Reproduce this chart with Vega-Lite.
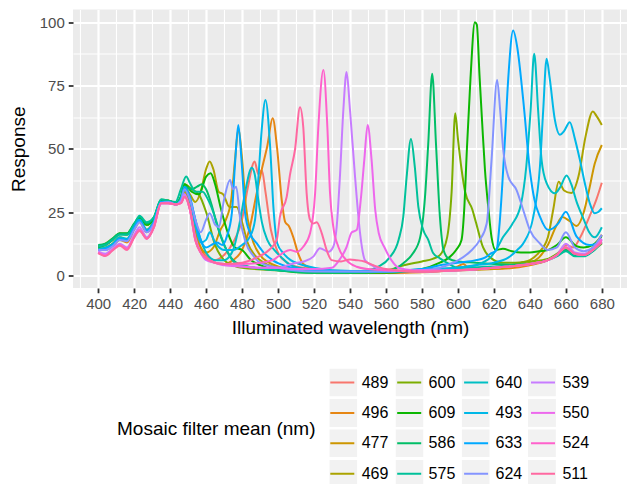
{
"$schema": "https://vega.github.io/schema/vega-lite/v6.json",
"autosize": {"type": "none"},
"width": 554, "height": 278.5,
"padding": {"left": 73, "top": 9.5, "right": 0, "bottom": 196},
"background": "white",
"config": {
 "font": "Liberation Sans",
 "view": {"fill": "#EBEBEB", "stroke": null},
 "axis": {"domain": false, "grid": true, "gridColor": "#FFFFFF", "tickColor": "#333333", "tickSize": 4.75, "tickWidth": 1.8, "labelColor": "#4D4D4D", "labelFontSize": 15, "titleFontSize": 19, "titleFontWeight": "normal", "titleColor": "#000000", "labelPadding": 4},
 "legend": {"orient": "none", "legendY": 359, "columns": 4, "titleOrient": "left", "titleAnchor": "middle", "titleBaseline": "middle", "titleLimit": 400,
   "titleFontSize": 19, "titleFontWeight": "normal", "titleColor": "#000000", "titlePadding": 11.3,
   "labelFontSize": 16, "labelColor": "#000000", "labelOffset": 4.4, "symbolSize": 784, "clipHeight": 28,
   "rowPadding": 2.4, "columnPadding": 4.9}
},
"data": {"values": [
{"s":"489","w":400,"r":10.5},{"s":"489","w":404,"r":10.5},{"s":"489","w":408,"r":12},{"s":"489","w":412,"r":14.5},{"s":"489","w":416,"r":13.5},{"s":"489","w":420,"r":18.5},{"s":"489","w":423,"r":21.5},{"s":"489","w":427,"r":17.5},{"s":"489","w":431,"r":21},{"s":"489","w":435,"r":29},{"s":"489","w":439,"r":29},{"s":"489","w":443,"r":28},{"s":"489","w":446,"r":29},{"s":"489","w":448,"r":33},{"s":"489","w":451,"r":28},{"s":"489","w":454,"r":18},{"s":"489","w":457,"r":11},{"s":"489","w":460,"r":8},{"s":"489","w":465,"r":6},{"s":"489","w":470,"r":8},{"s":"489","w":475,"r":13},{"s":"489","w":480,"r":22},{"s":"489","w":483,"r":34},{"s":"489","w":487,"r":45},{"s":"489","w":489,"r":40},{"s":"489","w":491,"r":41.5},{"s":"489","w":493,"r":33},{"s":"489","w":496,"r":18},{"s":"489","w":500,"r":9},{"s":"489","w":505,"r":5},{"s":"489","w":510,"r":3.5},{"s":"489","w":520,"r":2.5},{"s":"489","w":530,"r":1.5},{"s":"489","w":545,"r":1.5},{"s":"489","w":560,"r":1},{"s":"489","w":580,"r":1.5},{"s":"489","w":600,"r":2},{"s":"489","w":620,"r":3},{"s":"489","w":640,"r":4.5},{"s":"489","w":650,"r":6},{"s":"489","w":655,"r":8},{"s":"489","w":660,"r":12},{"s":"489","w":664,"r":11},{"s":"489","w":668,"r":15},{"s":"489","w":673,"r":23},{"s":"489","w":677,"r":30},{"s":"489","w":680,"r":36.6},
{"s":"496","w":400,"r":10},{"s":"496","w":404,"r":10},{"s":"496","w":408,"r":11.5},{"s":"496","w":412,"r":14},{"s":"496","w":416,"r":13},{"s":"496","w":420,"r":18},{"s":"496","w":423,"r":21},{"s":"496","w":427,"r":17},{"s":"496","w":431,"r":20.5},{"s":"496","w":435,"r":29},{"s":"496","w":439,"r":29},{"s":"496","w":443,"r":28},{"s":"496","w":446,"r":29},{"s":"496","w":448,"r":34},{"s":"496","w":451,"r":29},{"s":"496","w":454,"r":17},{"s":"496","w":457,"r":10},{"s":"496","w":460,"r":7},{"s":"496","w":465,"r":5},{"s":"496","w":470,"r":4.5},{"s":"496","w":475,"r":6},{"s":"496","w":480,"r":10},{"s":"496","w":484,"r":18},{"s":"496","w":488,"r":32},{"s":"496","w":491,"r":42},{"s":"496","w":494,"r":51},{"s":"496","w":497,"r":62},{"s":"496","w":499.5,"r":50},{"s":"496","w":502,"r":30},{"s":"496","w":504,"r":21},{"s":"496","w":506,"r":19.5},{"s":"496","w":508.5,"r":15},{"s":"496","w":511,"r":9},{"s":"496","w":514,"r":4.5},{"s":"496","w":518,"r":3},{"s":"496","w":525,"r":2},{"s":"496","w":535,"r":1.5},{"s":"496","w":560,"r":1},{"s":"496","w":580,"r":1.2},{"s":"496","w":595,"r":2},{"s":"496","w":600,"r":3.5},{"s":"496","w":603,"r":4.5},{"s":"496","w":606,"r":3},{"s":"496","w":620,"r":2.5},{"s":"496","w":640,"r":4},{"s":"496","w":650,"r":6},{"s":"496","w":655,"r":8},{"s":"496","w":660,"r":10.5},{"s":"496","w":665,"r":8},{"s":"496","w":670,"r":8},{"s":"496","w":675,"r":11},{"s":"496","w":680,"r":16},
{"s":"477","w":400,"r":10.5},{"s":"477","w":404,"r":11},{"s":"477","w":408,"r":12.5},{"s":"477","w":412,"r":15},{"s":"477","w":416,"r":14},{"s":"477","w":420,"r":19},{"s":"477","w":423,"r":21.5},{"s":"477","w":427,"r":18},{"s":"477","w":431,"r":21.5},{"s":"477","w":435,"r":29},{"s":"477","w":439,"r":29.5},{"s":"477","w":443,"r":28},{"s":"477","w":446,"r":29.5},{"s":"477","w":448,"r":33},{"s":"477","w":451,"r":28},{"s":"477","w":454,"r":17},{"s":"477","w":457,"r":11},{"s":"477","w":460,"r":9},{"s":"477","w":464,"r":11},{"s":"477","w":468,"r":18},{"s":"477","w":471,"r":22},{"s":"477","w":474,"r":30},{"s":"477","w":476,"r":45},{"s":"477","w":478,"r":58},{"s":"477","w":480,"r":46},{"s":"477","w":482,"r":28},{"s":"477","w":485,"r":16},{"s":"477","w":490,"r":8},{"s":"477","w":495,"r":5},{"s":"477","w":500,"r":3.5},{"s":"477","w":510,"r":2},{"s":"477","w":520,"r":1.5},{"s":"477","w":560,"r":1},{"s":"477","w":580,"r":1.5},{"s":"477","w":600,"r":2},{"s":"477","w":620,"r":2.5},{"s":"477","w":640,"r":5},{"s":"477","w":645,"r":7},{"s":"477","w":650,"r":12},{"s":"477","w":655,"r":20},{"s":"477","w":658,"r":23},{"s":"477","w":662,"r":21.5},{"s":"477","w":666,"r":19.5},{"s":"477","w":670,"r":25},{"s":"477","w":673,"r":34},{"s":"477","w":676,"r":44},{"s":"477","w":680,"r":51.5},
{"s":"469","w":400,"r":11.5},{"s":"469","w":404,"r":12},{"s":"469","w":408,"r":14},{"s":"469","w":412,"r":16.5},{"s":"469","w":416,"r":16.5},{"s":"469","w":420,"r":20},{"s":"469","w":423,"r":22.5},{"s":"469","w":427,"r":20},{"s":"469","w":431,"r":22.5},{"s":"469","w":435,"r":29.5},{"s":"469","w":439,"r":29.5},{"s":"469","w":443,"r":28.5},{"s":"469","w":446,"r":30},{"s":"469","w":448,"r":35},{"s":"469","w":451,"r":32},{"s":"469","w":454,"r":29},{"s":"469","w":457,"r":33},{"s":"469","w":460,"r":42},{"s":"469","w":462,"r":45},{"s":"469","w":464,"r":42},{"s":"469","w":467,"r":33},{"s":"469","w":469.5,"r":32},{"s":"469","w":473,"r":27},{"s":"469","w":477,"r":27},{"s":"469","w":480,"r":21},{"s":"469","w":483,"r":13},{"s":"469","w":487,"r":8},{"s":"469","w":492,"r":5},{"s":"469","w":500,"r":3},{"s":"469","w":520,"r":2},{"s":"469","w":560,"r":1.5},{"s":"469","w":600,"r":2},{"s":"469","w":620,"r":3},{"s":"469","w":635,"r":5},{"s":"469","w":640,"r":6},{"s":"469","w":645,"r":9},{"s":"469","w":650,"r":15},{"s":"469","w":653,"r":26},{"s":"469","w":656,"r":37},{"s":"469","w":659,"r":33.5},{"s":"469","w":663,"r":32.5},{"s":"469","w":667,"r":39},{"s":"469","w":671,"r":55},{"s":"469","w":675,"r":64.7},{"s":"469","w":677,"r":63},{"s":"469","w":680,"r":59.4},
{"s":"600","w":400,"r":11.5},{"s":"600","w":404,"r":12.5},{"s":"600","w":408,"r":14.5},{"s":"600","w":412,"r":16.5},{"s":"600","w":416,"r":16},{"s":"600","w":420,"r":20},{"s":"600","w":423,"r":22.5},{"s":"600","w":427,"r":20},{"s":"600","w":431,"r":22.5},{"s":"600","w":435,"r":29.5},{"s":"600","w":439,"r":29.5},{"s":"600","w":443,"r":28.5},{"s":"600","w":446,"r":31},{"s":"600","w":448,"r":36},{"s":"600","w":452,"r":34},{"s":"600","w":456,"r":32},{"s":"600","w":460,"r":25},{"s":"600","w":465,"r":12},{"s":"600","w":470,"r":6},{"s":"600","w":475,"r":4},{"s":"600","w":480,"r":3},{"s":"600","w":500,"r":2},{"s":"600","w":520,"r":1.5},{"s":"600","w":540,"r":1.5},{"s":"600","w":560,"r":2},{"s":"600","w":570,"r":4},{"s":"600","w":580,"r":5.5},{"s":"600","w":586,"r":6.5},{"s":"600","w":590,"r":8},{"s":"600","w":594,"r":15},{"s":"600","w":596.5,"r":33},{"s":"600","w":598.5,"r":64},{"s":"600","w":600,"r":54},{"s":"600","w":602,"r":42},{"s":"600","w":604,"r":33},{"s":"600","w":608,"r":26},{"s":"600","w":610,"r":21},{"s":"600","w":614,"r":11},{"s":"600","w":618,"r":7},{"s":"600","w":625,"r":5},{"s":"600","w":632,"r":5},{"s":"600","w":640,"r":5.5},{"s":"600","w":650,"r":6.5},{"s":"600","w":655,"r":8.5},{"s":"600","w":660,"r":11},{"s":"600","w":665,"r":8},{"s":"600","w":670,"r":8},{"s":"600","w":675,"r":10},{"s":"600","w":680,"r":12.5},
{"s":"609","w":400,"r":11},{"s":"609","w":404,"r":12},{"s":"609","w":408,"r":14},{"s":"609","w":412,"r":16.5},{"s":"609","w":416,"r":16.5},{"s":"609","w":420,"r":20},{"s":"609","w":423,"r":22.5},{"s":"609","w":427,"r":20},{"s":"609","w":431,"r":22.5},{"s":"609","w":435,"r":29.5},{"s":"609","w":439,"r":29.5},{"s":"609","w":443,"r":28.5},{"s":"609","w":446,"r":31},{"s":"609","w":448,"r":36},{"s":"609","w":452,"r":33},{"s":"609","w":456,"r":32},{"s":"609","w":460,"r":39},{"s":"609","w":462.5,"r":40.3},{"s":"609","w":465,"r":36},{"s":"609","w":468,"r":27},{"s":"609","w":472,"r":17},{"s":"609","w":476,"r":11},{"s":"609","w":480,"r":10},{"s":"609","w":485,"r":6},{"s":"609","w":490,"r":4},{"s":"609","w":500,"r":2},{"s":"609","w":520,"r":1},{"s":"609","w":560,"r":1},{"s":"609","w":580,"r":2.5},{"s":"609","w":590,"r":5},{"s":"609","w":595,"r":7},{"s":"609","w":599,"r":10},{"s":"609","w":602,"r":14},{"s":"609","w":603.5,"r":26},{"s":"609","w":605,"r":50},{"s":"609","w":607,"r":78},{"s":"609","w":609.4,"r":100},{"s":"609","w":610.5,"r":99},{"s":"609","w":612,"r":79},{"s":"609","w":613.5,"r":60},{"s":"609","w":615,"r":42},{"s":"609","w":617,"r":26},{"s":"609","w":618.7,"r":15},{"s":"609","w":621,"r":10},{"s":"609","w":625,"r":10.5},{"s":"609","w":630,"r":9.5},{"s":"609","w":635,"r":9},{"s":"609","w":640,"r":9},{"s":"609","w":645,"r":9.5},{"s":"609","w":650,"r":10},{"s":"609","w":655,"r":12},{"s":"609","w":660,"r":15},{"s":"609","w":666,"r":11.5},{"s":"609","w":670,"r":11},{"s":"609","w":675,"r":12},{"s":"609","w":680,"r":15.5},
{"s":"586","w":400,"r":12},{"s":"586","w":404,"r":12.5},{"s":"586","w":408,"r":14.5},{"s":"586","w":412,"r":16.5},{"s":"586","w":416,"r":16.5},{"s":"586","w":420,"r":20.5},{"s":"586","w":423,"r":23},{"s":"586","w":427,"r":20.5},{"s":"586","w":431,"r":23},{"s":"586","w":435,"r":30},{"s":"586","w":439,"r":29.5},{"s":"586","w":443,"r":28.5},{"s":"586","w":446,"r":31},{"s":"586","w":448,"r":35},{"s":"586","w":452,"r":34},{"s":"586","w":455,"r":35},{"s":"586","w":457.6,"r":36},{"s":"586","w":460,"r":34},{"s":"586","w":463,"r":28},{"s":"586","w":466,"r":20},{"s":"586","w":470,"r":12},{"s":"586","w":475,"r":6},{"s":"586","w":480,"r":4},{"s":"586","w":500,"r":2},{"s":"586","w":520,"r":1},{"s":"586","w":540,"r":1},{"s":"586","w":560,"r":1.5},{"s":"586","w":566,"r":3},{"s":"586","w":570,"r":5},{"s":"586","w":575,"r":8.7},{"s":"586","w":579,"r":15},{"s":"586","w":581.7,"r":31},{"s":"586","w":583.5,"r":52},{"s":"586","w":585.7,"r":79.6},{"s":"586","w":587.8,"r":52},{"s":"586","w":590,"r":23},{"s":"586","w":592,"r":10},{"s":"586","w":594.6,"r":6.7},{"s":"586","w":600,"r":5.5},{"s":"586","w":610,"r":5},{"s":"586","w":620,"r":4.5},{"s":"586","w":630,"r":4.2},{"s":"586","w":640,"r":4.5},{"s":"586","w":650,"r":6},{"s":"586","w":655,"r":8},{"s":"586","w":660,"r":10},{"s":"586","w":665,"r":8},{"s":"586","w":670,"r":8},{"s":"586","w":675,"r":9.5},{"s":"586","w":680,"r":13},
{"s":"575","w":400,"r":11.5},{"s":"575","w":404,"r":12},{"s":"575","w":408,"r":14},{"s":"575","w":412,"r":16},{"s":"575","w":416,"r":16},{"s":"575","w":420,"r":20},{"s":"575","w":423,"r":23.5},{"s":"575","w":427,"r":21},{"s":"575","w":431,"r":23},{"s":"575","w":435,"r":30},{"s":"575","w":439,"r":29.5},{"s":"575","w":443,"r":29},{"s":"575","w":446,"r":34},{"s":"575","w":448.9,"r":39},{"s":"575","w":451,"r":36.5},{"s":"575","w":454,"r":33},{"s":"575","w":458,"r":33},{"s":"575","w":461,"r":30},{"s":"575","w":464,"r":25},{"s":"575","w":468,"r":16},{"s":"575","w":472,"r":9},{"s":"575","w":476,"r":5},{"s":"575","w":480,"r":4},{"s":"575","w":500,"r":2},{"s":"575","w":520,"r":1.5},{"s":"575","w":540,"r":1.5},{"s":"575","w":550,"r":2},{"s":"575","w":556,"r":3.5},{"s":"575","w":562,"r":7},{"s":"575","w":567,"r":14},{"s":"575","w":569.6,"r":23},{"s":"575","w":571.5,"r":39},{"s":"575","w":573.9,"r":53.9},{"s":"575","w":576,"r":43},{"s":"575","w":578,"r":27},{"s":"575","w":580.7,"r":18},{"s":"575","w":583.5,"r":14},{"s":"575","w":586.3,"r":8.7},{"s":"575","w":590,"r":6.7},{"s":"575","w":595,"r":4.5},{"s":"575","w":600,"r":3},{"s":"575","w":620,"r":3.5},{"s":"575","w":640,"r":4.5},{"s":"575","w":650,"r":6},{"s":"575","w":655,"r":7.5},{"s":"575","w":660,"r":9.5},{"s":"575","w":665,"r":7.5},{"s":"575","w":670,"r":7.5},{"s":"575","w":675,"r":9.5},{"s":"575","w":680,"r":13},
{"s":"640","w":400,"r":10.5},{"s":"640","w":404,"r":11},{"s":"640","w":408,"r":12.5},{"s":"640","w":412,"r":15},{"s":"640","w":416,"r":14.5},{"s":"640","w":420,"r":19},{"s":"640","w":423,"r":22},{"s":"640","w":427,"r":18},{"s":"640","w":431,"r":21.5},{"s":"640","w":435,"r":29},{"s":"640","w":439,"r":29},{"s":"640","w":443,"r":28},{"s":"640","w":446,"r":30},{"s":"640","w":448,"r":34},{"s":"640","w":451,"r":30},{"s":"640","w":454,"r":22},{"s":"640","w":457,"r":14},{"s":"640","w":460,"r":9},{"s":"640","w":465,"r":6},{"s":"640","w":470,"r":6},{"s":"640","w":475,"r":10},{"s":"640","w":479,"r":22},{"s":"640","w":482,"r":34},{"s":"640","w":485.4,"r":42.5},{"s":"640","w":487,"r":40},{"s":"640","w":489,"r":30},{"s":"640","w":491,"r":21},{"s":"640","w":494,"r":14},{"s":"640","w":498,"r":10},{"s":"640","w":502,"r":7},{"s":"640","w":507,"r":4},{"s":"640","w":515,"r":2.5},{"s":"640","w":530,"r":1.5},{"s":"640","w":560,"r":1.5},{"s":"640","w":580,"r":2.5},{"s":"640","w":600,"r":3},{"s":"640","w":610,"r":4},{"s":"640","w":615,"r":5.5},{"s":"640","w":618,"r":7},{"s":"640","w":622,"r":11},{"s":"640","w":625,"r":15},{"s":"640","w":630,"r":20},{"s":"640","w":635,"r":28},{"s":"640","w":638,"r":43},{"s":"640","w":640.4,"r":65},{"s":"640","w":642.4,"r":87.5},{"s":"640","w":644.6,"r":65},{"s":"640","w":646.5,"r":45.6},{"s":"640","w":649.3,"r":36.4},{"s":"640","w":653.9,"r":32.4},{"s":"640","w":657,"r":35},{"s":"640","w":660.4,"r":39.4},{"s":"640","w":663,"r":36},{"s":"640","w":666,"r":29},{"s":"640","w":670,"r":22},{"s":"640","w":673,"r":17},{"s":"640","w":676,"r":15},{"s":"640","w":680,"r":19},
{"s":"493","w":400,"r":10},{"s":"493","w":404,"r":10.5},{"s":"493","w":408,"r":12},{"s":"493","w":412,"r":14.5},{"s":"493","w":416,"r":14},{"s":"493","w":420,"r":18.5},{"s":"493","w":423,"r":21.5},{"s":"493","w":427,"r":17.5},{"s":"493","w":431,"r":21},{"s":"493","w":435,"r":29},{"s":"493","w":439,"r":29},{"s":"493","w":443,"r":28},{"s":"493","w":446,"r":29.5},{"s":"493","w":448,"r":34},{"s":"493","w":451,"r":30},{"s":"493","w":454,"r":20},{"s":"493","w":457,"r":13},{"s":"493","w":460,"r":14},{"s":"493","w":462,"r":17},{"s":"493","w":465,"r":13},{"s":"493","w":470,"r":10},{"s":"493","w":475,"r":10},{"s":"493","w":480,"r":12},{"s":"493","w":484.4,"r":15.3},{"s":"493","w":487.2,"r":21.9},{"s":"493","w":489,"r":37.7},{"s":"493","w":490.9,"r":57.4},{"s":"493","w":493,"r":69.3},{"s":"493","w":495.6,"r":50.8},{"s":"493","w":497.4,"r":27.1},{"s":"493","w":499.6,"r":12.6},{"s":"493","w":503,"r":8.7},{"s":"493","w":507,"r":6},{"s":"493","w":512,"r":4.5},{"s":"493","w":520,"r":3},{"s":"493","w":530,"r":2},{"s":"493","w":560,"r":1.5},{"s":"493","w":580,"r":2},{"s":"493","w":600,"r":3},{"s":"493","w":610,"r":4},{"s":"493","w":620,"r":5},{"s":"493","w":628,"r":7},{"s":"493","w":633,"r":10},{"s":"493","w":636.3,"r":12.6},{"s":"493","w":641.9,"r":23.2},{"s":"493","w":645.6,"r":43},{"s":"493","w":647.4,"r":65},{"s":"493","w":649.3,"r":85.5},{"s":"493","w":651,"r":78},{"s":"493","w":653.9,"r":61.4},{"s":"493","w":656.7,"r":55.5},{"s":"493","w":659,"r":57},{"s":"493","w":662.2,"r":60.5},{"s":"493","w":665,"r":54},{"s":"493","w":667.8,"r":45.6},{"s":"493","w":671,"r":35},{"s":"493","w":673.3,"r":28.5},{"s":"493","w":676,"r":24.5},{"s":"493","w":678,"r":25},{"s":"493","w":680,"r":26.5},
{"s":"633","w":400,"r":10},{"s":"633","w":404,"r":10.5},{"s":"633","w":408,"r":12},{"s":"633","w":412,"r":14.5},{"s":"633","w":416,"r":14},{"s":"633","w":420,"r":19},{"s":"633","w":423,"r":22},{"s":"633","w":427,"r":17.5},{"s":"633","w":431,"r":21},{"s":"633","w":435,"r":29},{"s":"633","w":439,"r":29},{"s":"633","w":443,"r":28},{"s":"633","w":446,"r":30},{"s":"633","w":448,"r":35},{"s":"633","w":451,"r":31},{"s":"633","w":454,"r":22},{"s":"633","w":457,"r":14},{"s":"633","w":460,"r":11},{"s":"633","w":463,"r":12},{"s":"633","w":466,"r":13},{"s":"633","w":469,"r":12},{"s":"633","w":471.5,"r":15.3},{"s":"633","w":474.3,"r":24.5},{"s":"633","w":476.1,"r":44.3},{"s":"633","w":477.9,"r":59.4},{"s":"633","w":479.8,"r":44.3},{"s":"633","w":481.7,"r":24.5},{"s":"633","w":484.4,"r":16.7},{"s":"633","w":488.2,"r":12.6},{"s":"633","w":492,"r":9},{"s":"633","w":497,"r":6},{"s":"633","w":505,"r":3.5},{"s":"633","w":520,"r":2},{"s":"633","w":540,"r":1.5},{"s":"633","w":560,"r":1.5},{"s":"633","w":580,"r":2.5},{"s":"633","w":590,"r":4},{"s":"633","w":600,"r":5},{"s":"633","w":610,"r":6},{"s":"633","w":615,"r":7},{"s":"633","w":618,"r":8.5},{"s":"633","w":621.5,"r":10},{"s":"633","w":623,"r":19},{"s":"633","w":626,"r":52},{"s":"633","w":628,"r":78},{"s":"633","w":630.7,"r":96.7},{"s":"633","w":633,"r":90},{"s":"633","w":636.3,"r":69.3},{"s":"633","w":640,"r":41.6},{"s":"633","w":642.5,"r":30},{"s":"633","w":645.6,"r":23.2},{"s":"633","w":650.2,"r":17.9},{"s":"633","w":655.8,"r":20.5},{"s":"633","w":660,"r":25.1},{"s":"633","w":666,"r":15.3},{"s":"633","w":673.3,"r":12},{"s":"633","w":677,"r":12.5},{"s":"633","w":680,"r":14},
{"s":"624","w":400,"r":10},{"s":"624","w":404,"r":10},{"s":"624","w":408,"r":11.5},{"s":"624","w":412,"r":14},{"s":"624","w":416,"r":13.5},{"s":"624","w":420,"r":18},{"s":"624","w":423,"r":21},{"s":"624","w":427,"r":17},{"s":"624","w":431,"r":20.5},{"s":"624","w":435,"r":28.5},{"s":"624","w":439,"r":29},{"s":"624","w":443,"r":28},{"s":"624","w":446,"r":29.5},{"s":"624","w":448,"r":34},{"s":"624","w":451,"r":30},{"s":"624","w":454,"r":22},{"s":"624","w":457,"r":17},{"s":"624","w":460,"r":22},{"s":"624","w":462,"r":24.5},{"s":"624","w":465,"r":20},{"s":"624","w":467,"r":19},{"s":"624","w":470,"r":30},{"s":"624","w":473.3,"r":37.7},{"s":"624","w":475,"r":34},{"s":"624","w":476.7,"r":35},{"s":"624","w":479,"r":22},{"s":"624","w":482,"r":13},{"s":"624","w":486,"r":8},{"s":"624","w":490,"r":5},{"s":"624","w":500,"r":3},{"s":"624","w":520,"r":1.5},{"s":"624","w":560,"r":1.5},{"s":"624","w":580,"r":2},{"s":"624","w":590,"r":3},{"s":"624","w":599,"r":5.5},{"s":"624","w":606.7,"r":9.3},{"s":"624","w":612.2,"r":14},{"s":"624","w":616,"r":20.5},{"s":"624","w":618.7,"r":45.6},{"s":"624","w":621.8,"r":77.2},{"s":"624","w":623.5,"r":65},{"s":"624","w":625.2,"r":49.5},{"s":"624","w":628,"r":39},{"s":"624","w":632.6,"r":33.7},{"s":"624","w":636.3,"r":25.8},{"s":"624","w":640,"r":17.9},{"s":"624","w":645.6,"r":12.6},{"s":"624","w":650,"r":10},{"s":"624","w":655,"r":11},{"s":"624","w":660,"r":17},{"s":"624","w":665,"r":11},{"s":"624","w":670,"r":9.5},{"s":"624","w":675,"r":11},{"s":"624","w":680,"r":16},
{"s":"539","w":400,"r":9.5},{"s":"539","w":404,"r":8.5},{"s":"539","w":408,"r":10.5},{"s":"539","w":412,"r":12.5},{"s":"539","w":416,"r":11},{"s":"539","w":420,"r":16},{"s":"539","w":423,"r":19},{"s":"539","w":427,"r":15},{"s":"539","w":431,"r":19.5},{"s":"539","w":435,"r":28.5},{"s":"539","w":439,"r":28.5},{"s":"539","w":443,"r":28},{"s":"539","w":446,"r":29},{"s":"539","w":448,"r":32},{"s":"539","w":451,"r":26},{"s":"539","w":454,"r":15},{"s":"539","w":457,"r":9},{"s":"539","w":460,"r":6},{"s":"539","w":465,"r":5},{"s":"539","w":470,"r":4.5},{"s":"539","w":480,"r":3.5},{"s":"539","w":490,"r":3},{"s":"539","w":500,"r":3},{"s":"539","w":508.5,"r":4.7},{"s":"539","w":514,"r":5.4},{"s":"539","w":519.6,"r":7.4},{"s":"539","w":523.3,"r":10.7},{"s":"539","w":528,"r":9.3},{"s":"539","w":530.7,"r":11.3},{"s":"539","w":532.6,"r":19.2},{"s":"539","w":534.4,"r":39},{"s":"539","w":536.3,"r":65.3},{"s":"539","w":538.1,"r":80.3},{"s":"539","w":540,"r":65.3},{"s":"539","w":542.8,"r":39},{"s":"539","w":545.6,"r":16.6},{"s":"539","w":548.3,"r":6},{"s":"539","w":552,"r":4},{"s":"539","w":560,"r":2},{"s":"539","w":580,"r":1.5},{"s":"539","w":600,"r":2},{"s":"539","w":620,"r":3},{"s":"539","w":640,"r":4.5},{"s":"539","w":650,"r":6},{"s":"539","w":655,"r":8},{"s":"539","w":660,"r":12.5},{"s":"539","w":665,"r":9},{"s":"539","w":670,"r":8.5},{"s":"539","w":675,"r":10},{"s":"539","w":680,"r":14.5},
{"s":"550","w":400,"r":9},{"s":"550","w":404,"r":8},{"s":"550","w":408,"r":10},{"s":"550","w":412,"r":12},{"s":"550","w":416,"r":10.5},{"s":"550","w":420,"r":15.5},{"s":"550","w":423,"r":18},{"s":"550","w":427,"r":14.5},{"s":"550","w":431,"r":19},{"s":"550","w":435,"r":28.5},{"s":"550","w":439,"r":28.5},{"s":"550","w":443,"r":28},{"s":"550","w":446,"r":28.5},{"s":"550","w":448,"r":31},{"s":"550","w":451,"r":26},{"s":"550","w":454,"r":14},{"s":"550","w":457,"r":9},{"s":"550","w":460,"r":6.5},{"s":"550","w":465,"r":5},{"s":"550","w":470,"r":4},{"s":"550","w":480,"r":3.5},{"s":"550","w":490,"r":3},{"s":"550","w":500,"r":3},{"s":"550","w":510,"r":2.5},{"s":"550","w":520,"r":2.5},{"s":"550","w":530,"r":3},{"s":"550","w":534,"r":6},{"s":"550","w":538,"r":11},{"s":"550","w":541,"r":17},{"s":"550","w":543.7,"r":17.9},{"s":"550","w":546,"r":30},{"s":"550","w":548,"r":46},{"s":"550","w":549.8,"r":59.4},{"s":"550","w":552,"r":45.6},{"s":"550","w":554,"r":26},{"s":"550","w":556,"r":16.6},{"s":"550","w":559.4,"r":10.7},{"s":"550","w":563,"r":6},{"s":"550","w":567,"r":3},{"s":"550","w":575,"r":2},{"s":"550","w":600,"r":2},{"s":"550","w":620,"r":3},{"s":"550","w":640,"r":4.5},{"s":"550","w":650,"r":6},{"s":"550","w":655,"r":8},{"s":"550","w":660,"r":11},{"s":"550","w":665,"r":8.5},{"s":"550","w":670,"r":8},{"s":"550","w":675,"r":10},{"s":"550","w":680,"r":13.5},
{"s":"524","w":400,"r":9},{"s":"524","w":404,"r":7.8},{"s":"524","w":408,"r":10},{"s":"524","w":412,"r":11.8},{"s":"524","w":416,"r":10.5},{"s":"524","w":420,"r":15},{"s":"524","w":423,"r":18},{"s":"524","w":427,"r":14.5},{"s":"524","w":431,"r":19},{"s":"524","w":435,"r":28.5},{"s":"524","w":439,"r":28.5},{"s":"524","w":443,"r":28},{"s":"524","w":446,"r":28.5},{"s":"524","w":448,"r":31},{"s":"524","w":451,"r":26},{"s":"524","w":454,"r":14},{"s":"524","w":457,"r":9},{"s":"524","w":460,"r":6.5},{"s":"524","w":465,"r":5},{"s":"524","w":470,"r":4.5},{"s":"524","w":480,"r":4.5},{"s":"524","w":490,"r":5},{"s":"524","w":497,"r":6},{"s":"524","w":503,"r":9},{"s":"524","w":506.7,"r":10},{"s":"524","w":510.4,"r":9.3},{"s":"524","w":514,"r":11.3},{"s":"524","w":517.8,"r":16.6},{"s":"524","w":520.6,"r":32.4},{"s":"524","w":522.4,"r":58.7},{"s":"524","w":525.2,"r":81.1},{"s":"524","w":527.4,"r":58.7},{"s":"524","w":528.9,"r":32.4},{"s":"524","w":530.7,"r":19.2},{"s":"524","w":533.5,"r":11.3},{"s":"524","w":538,"r":6},{"s":"524","w":543.7,"r":3.4},{"s":"524","w":550,"r":2.5},{"s":"524","w":560,"r":2},{"s":"524","w":580,"r":1.5},{"s":"524","w":600,"r":2},{"s":"524","w":620,"r":3},{"s":"524","w":640,"r":4.5},{"s":"524","w":650,"r":6},{"s":"524","w":655,"r":8},{"s":"524","w":660,"r":11},{"s":"524","w":665,"r":8.5},{"s":"524","w":670,"r":8},{"s":"524","w":675,"r":10},{"s":"524","w":680,"r":14},
{"s":"511","w":400,"r":8.8},{"s":"511","w":404,"r":7.6},{"s":"511","w":408,"r":9.8},{"s":"511","w":412,"r":11.8},{"s":"511","w":416,"r":10},{"s":"511","w":420,"r":15},{"s":"511","w":423,"r":17.5},{"s":"511","w":427,"r":14.5},{"s":"511","w":431,"r":19},{"s":"511","w":435,"r":28.5},{"s":"511","w":439,"r":28.5},{"s":"511","w":443,"r":28},{"s":"511","w":446,"r":28.5},{"s":"511","w":448,"r":31},{"s":"511","w":451,"r":26},{"s":"511","w":454,"r":14},{"s":"511","w":457,"r":9},{"s":"511","w":460,"r":7},{"s":"511","w":465,"r":5},{"s":"511","w":470,"r":4.5},{"s":"511","w":480,"r":5},{"s":"511","w":488,"r":7},{"s":"511","w":495,"r":10},{"s":"511","w":499.3,"r":14},{"s":"511","w":501,"r":23},{"s":"511","w":504.8,"r":31},{"s":"511","w":506.7,"r":40},{"s":"511","w":509.4,"r":49.5},{"s":"511","w":512.2,"r":66.4},{"s":"511","w":514,"r":58.7},{"s":"511","w":515.9,"r":32.4},{"s":"511","w":517.8,"r":21.9},{"s":"511","w":519.6,"r":20.5},{"s":"511","w":521.5,"r":21},{"s":"511","w":524.3,"r":16.6},{"s":"511","w":527,"r":10},{"s":"511","w":529.8,"r":6},{"s":"511","w":535,"r":5.5},{"s":"511","w":540,"r":6.3},{"s":"511","w":543.7,"r":6},{"s":"511","w":548,"r":5.5},{"s":"511","w":553,"r":4},{"s":"511","w":560,"r":2.5},{"s":"511","w":580,"r":1.5},{"s":"511","w":600,"r":2},{"s":"511","w":620,"r":3},{"s":"511","w":640,"r":4.5},{"s":"511","w":650,"r":6},{"s":"511","w":655,"r":8},{"s":"511","w":660,"r":11},{"s":"511","w":665,"r":8.5},{"s":"511","w":670,"r":8},{"s":"511","w":675,"r":10},{"s":"511","w":680,"r":13}
]},
"layer": [
 {"mark": {"type": "square", "size": 0},
  "encoding": {
   "fill": {"field": "s", "type": "nominal", "title": null,
    "scale": {"range": ["#F2F2F2"]},
    "legend": {"legendX": 256.3, "symbolType": "square", "symbolStrokeWidth": 0, "symbolOpacity": 1, "labelOpacity": 0,
     "labelExpr": "''", "labelOffset": 0, "columnPadding": 38.2}}}},
 {"mark": {"type": "line", "interpolate": "monotone", "strokeWidth": 2, "clip": true},
  "encoding": {
   "x": {"field": "w", "type": "quantitative", "title": "Illuminated wavelength (nm)",
    "scale": {"domain": [386, 694], "nice": false, "zero": false},
    "axis": {"values": [390,400,410,420,430,440,450,460,470,480,490,500,510,520,530,540,550,560,570,580,590,600,610,620,630,640,650,660,670,680,690],
     "labelExpr": "datum.value % 20 === 0 ? datum.label : ''",
     "tickOpacity": {"condition": {"test": "datum.value % 20 === 0", "value": 1}, "value": 0},
     "gridWidth": {"condition": {"test": "datum.value % 20 === 0", "value": 2.2}, "value": 1.1},
     "labelOverlap": false, "titlePadding": 7}},
   "y": {"field": "r", "type": "quantitative", "title": "Response",
    "scale": {"domain": [-5, 105], "nice": false, "zero": false},
    "axis": {"values": [0, 12.5, 25, 37.5, 50, 62.5, 75, 87.5, 100],
     "labelExpr": "datum.value % 25 === 0 ? datum.label : ''",
     "tickOpacity": {"condition": {"test": "datum.value % 25 === 0", "value": 1}, "value": 0},
     "gridWidth": {"condition": {"test": "datum.value % 25 === 0", "value": 2.2}, "value": 1.1},
     "labelOverlap": false, "titlePadding": 11}},
   "color": {"field": "s", "type": "nominal", "title": "Mosaic filter mean (nm)",
    "scale": {"domain": ["489","496","477","469","600","609","586","575","640","493","633","624","539","550","524","511"],
     "range": ["#F8766D","#E68613","#CD9600","#ABA300","#7CAE00","#0CB702","#00BE67","#00C19A","#00BFC4","#00B8E7","#00A9FF","#8494FF","#C77CFF","#ED68ED","#FF61CC","#FF68A1"]},
    "legend": {"legendX": 44, "symbolType": "M-0.857,0H0.857", "symbolStrokeWidth": 2}}}}
]
}
